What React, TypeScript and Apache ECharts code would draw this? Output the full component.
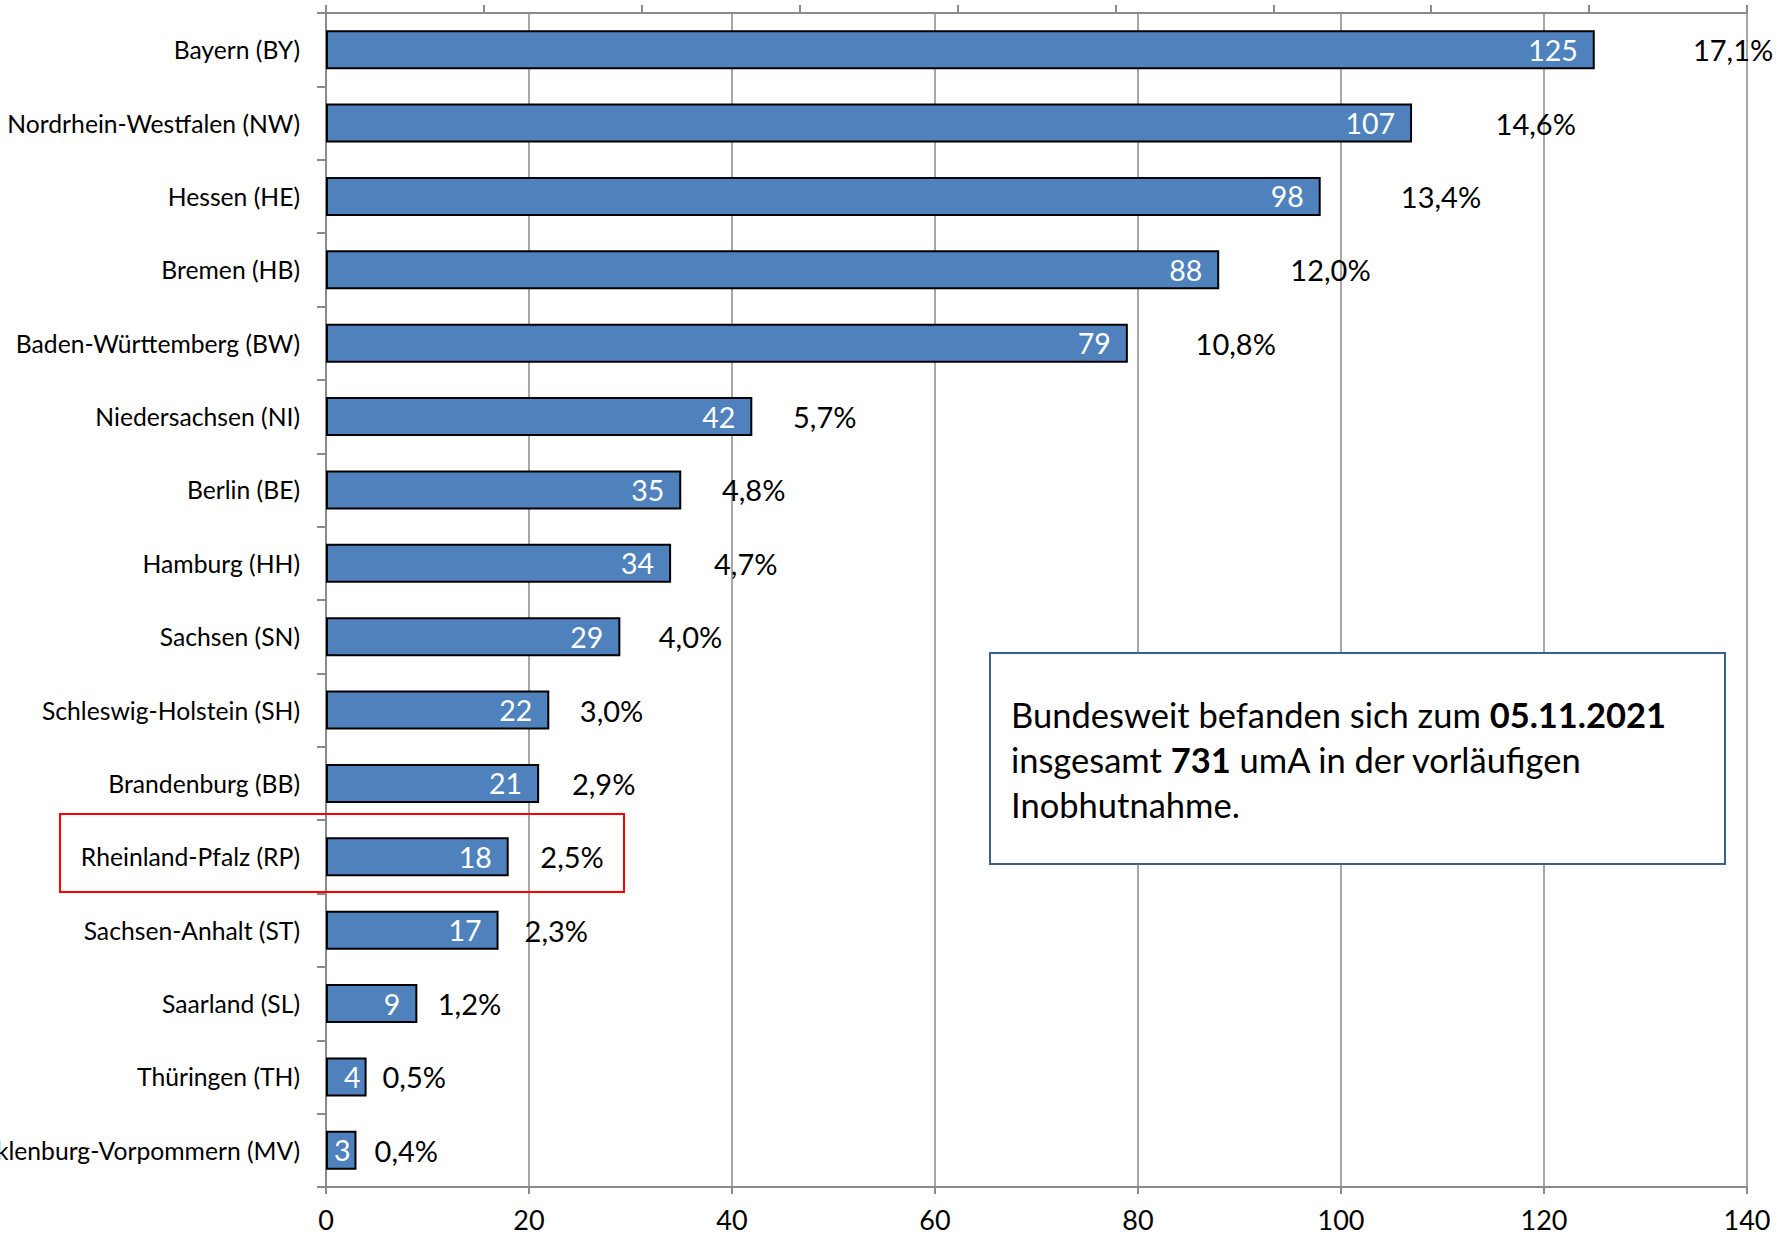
import React, { useEffect, useRef } from "react";
import * as echarts from "echarts";

const categories = [
  "Bayern (BY)",
  "Nordrhein-Westfalen (NW)",
  "Hessen (HE)",
  "Bremen (HB)",
  "Baden-Württemberg (BW)",
  "Niedersachsen (NI)",
  "Berlin (BE)",
  "Hamburg (HH)",
  "Sachsen (SN)",
  "Schleswig-Holstein (SH)",
  "Brandenburg (BB)",
  "Rheinland-Pfalz (RP)",
  "Sachsen-Anhalt (ST)",
  "Saarland (SL)",
  "Thüringen (TH)",
  "Mecklenburg-Vorpommern (MV)",
];

const counts = [125, 107, 98, 88, 79, 42, 35, 34, 29, 22, 21, 18, 17, 9, 4, 3];

const shares = [17.1, 14.6, 13.4, 12.0, 10.8, 5.7, 4.8, 4.7, 4.0, 3.0, 2.9, 2.5, 2.3, 1.2, 0.5, 0.4];

const xTicks = [0, 20, 40, 60, 80, 100, 120, 140];

const FONT = "Lato, 'Open Sans', sans-serif";

export default function App() {
  const ref = useRef<HTMLDivElement>(null);

  useEffect(() => {
    if (!ref.current) return;
    const chart = echarts.init(ref.current, undefined, { renderer: "svg" });

    const countData = counts.map((v) => ({
      value: v,
      label: { distance: v < 5 ? 6 : 17 },
    }));

    const option: any = {
      animation: false,
      backgroundColor: "#ffffff",
      grid: {
        left: 326,
        top: 13,
        width: 1421,
        height: 1174,
        containLabel: false,
        outerBoundsMode: "none",
      },
      xAxis: [
        {
          type: "value",
          position: "bottom",
          min: xTicks[0],
          max: xTicks[xTicks.length - 1],
          interval: 20,
          axisLine: { show: true, lineStyle: { color: "#8a8a8a", width: 2 } },
          axisTick: { show: true, length: 7, lineStyle: { color: "#8a8a8a", width: 2 } },
          axisLabel: { color: "#000", fontFamily: FONT, fontSize: 27, margin: 19 },
          splitLine: { show: true, lineStyle: { color: "#8a8a8a", width: 1.5 } },
        },
        {
          type: "value",
          position: "top",
          min: 0,
          max: 18,
          interval: 2,
          axisLine: { show: true, lineStyle: { color: "#8a8a8a", width: 2 } },
          axisTick: { show: true, length: 8, lineStyle: { color: "#8a8a8a", width: 2 } },
          axisLabel: { show: false },
          splitLine: { show: false },
        },
      ],
      yAxis: {
        type: "category",
        data: categories,
        inverse: true,
        axisLine: { show: true, lineStyle: { color: "#8a8a8a", width: 2 } },
        axisTick: { show: true, length: 9, lineStyle: { color: "#8a8a8a", width: 2 } },
        axisLabel: { color: "#000", fontFamily: FONT, fontSize: 24.7, margin: 26 },
      },
      series: [
        {
          type: "bar",
          xAxisIndex: 0,
          data: countData,
          barWidth: 39,
          barGap: "-100%",
          itemStyle: { color: "#4F81BD", borderColor: "#000", borderWidth: 2 },
          label: {
            show: true,
            position: "insideRight",
            color: "#fff",
            fontFamily: FONT,
            fontSize: 28.5,
          },
          z: 3,
        },
        {
          type: "bar",
          xAxisIndex: 1,
          data: shares,
          barWidth: 39,
          barGap: "-100%",
          itemStyle: { color: "rgba(0,0,0,0)" },
          label: {
            show: true,
            position: "right",
            distance: 17,
            color: "#000",
            fontFamily: FONT,
            fontSize: 29,
            formatter: (p: any) => p.value.toFixed(1).replace(".", ",") + "%",
          },
          z: 4,
        },
      ],
      graphic: [
        {
          type: "rect",
          shape: { x: 60, y: 814, width: 564, height: 78 },
          style: { fill: "none", stroke: "#ff0000", lineWidth: 2 },
          z: 10,
        },
        {
          type: "rect",
          shape: { x: 990, y: 653, width: 735, height: 211 },
          style: { fill: "#ffffff", stroke: "#3b5f8f", lineWidth: 2 },
          z: 10,
        },
        {
          type: "text",
          x: 1011,
          y: 692,
          z: 11,
          style: {
            text:
              "Bundesweit befanden sich zum {b|05.11.2021}\ninsgesamt {b|731} umA in der vorläufigen\nInobhutnahme.",
            fontFamily: FONT,
            fontSize: 34.5,
            lineHeight: 45,
            fill: "#000",
            rich: {
              b: { fontFamily: FONT, fontSize: 34.5, fontWeight: "bold", lineHeight: 45, fill: "#000" },
            },
          },
        },
      ],
    };

    chart.setOption(option);
    return () => chart.dispose();
  }, []);

  return (
    <div
      ref={ref}
      style={{ position: "absolute", left: 0, top: 0, width: 1787, height: 1239 }}
    />
  );
}
